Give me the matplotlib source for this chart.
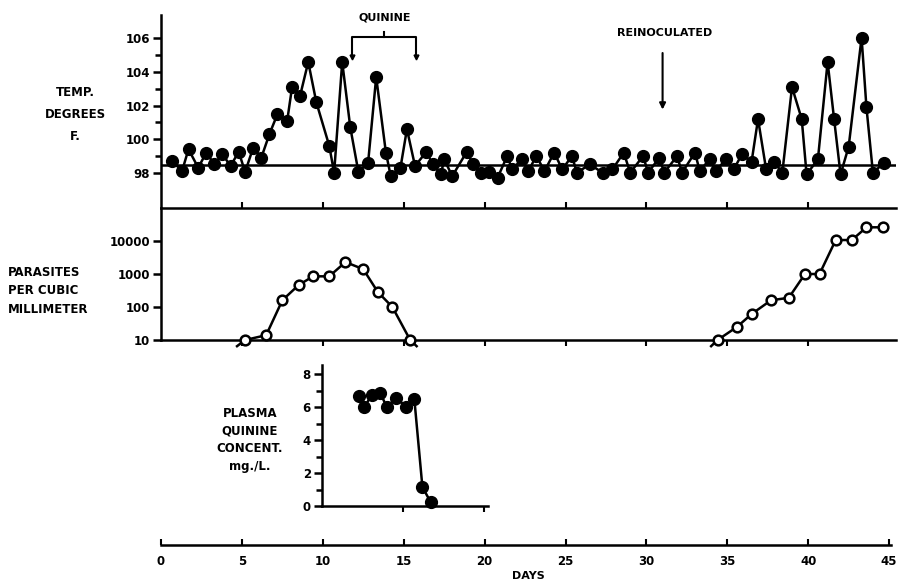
import numpy as np
import matplotlib
matplotlib.use("Agg")
import matplotlib.pyplot as plt

plt.rcParams['font.family'] = ['DejaVu Sans']
plt.rcParams['font.weight'] = 'bold'

# temperature readings (day, deg F)
temp_days = [0.7, 1.3, 1.7, 2.3, 2.8, 3.3, 3.8, 4.3, 4.8, 5.2, 5.7, 6.2, 6.7, 7.2, 7.8,
             8.1, 8.6, 9.1, 9.6, 10.4, 10.7, 11.2, 11.7, 12.2, 12.8, 13.3, 13.9, 14.2,
             14.8, 15.2, 15.7, 16.4, 16.8, 17.3, 17.5, 18.0, 18.9, 19.3, 19.8, 20.3,
             20.8, 21.4, 21.7, 22.3, 22.7, 23.2, 23.7, 24.3, 24.8, 25.4, 25.7, 26.5,
             27.3, 27.9, 28.6, 29.0, 29.8, 30.1, 30.8, 31.1, 31.9, 32.2, 33.0, 33.3,
             33.9, 34.3, 34.9, 35.4, 35.9, 36.5, 36.9, 37.4, 37.9, 38.4, 39.0, 39.6,
             39.9, 40.6, 41.2, 41.6, 42.0, 42.5, 43.3, 43.6, 44.0, 44.7]
temp_vals = [98.7, 98.1, 99.4, 98.3, 99.2, 98.5, 99.1, 98.4, 99.25, 98.05, 99.5, 98.9,
             100.3, 101.5, 101.1, 103.1, 102.6, 104.6, 102.2, 99.6, 98.0, 104.6, 100.7,
             98.05, 98.6, 103.7, 99.2, 97.8, 98.3, 100.6, 98.4, 99.25, 98.5, 97.9, 98.8,
             97.8, 99.25, 98.5, 98.0, 98.05, 97.7, 99.0, 98.2, 98.8, 98.1, 99.0, 98.1,
             99.2, 98.2, 99.0, 98.0, 98.5, 98.0, 98.2, 99.2, 98.0, 99.0, 98.0, 98.9,
             98.0, 99.0, 98.0, 99.2, 98.1, 98.8, 98.1, 98.8, 98.2, 99.1, 98.65, 101.2,
             98.2, 98.65, 98.0, 103.1, 101.2, 97.9, 98.8, 104.6, 101.2, 97.9, 99.55,
             106.05, 101.9, 98.0, 98.6]
normal_temp = 98.45

# parasites per cubic millimeter
par1_days = [5.2, 6.5, 7.5, 8.5, 9.4, 10.4, 11.4, 12.5, 13.4, 14.3, 15.4]
par1_vals = [10, 14, 160, 460, 850, 850, 2300, 1400, 285, 100, 10]
par2_days = [34.4, 35.6, 36.5, 37.7, 38.8, 39.8, 40.7, 41.7, 42.7, 43.6, 44.6]
par2_vals = [10, 25, 61, 160, 190, 1000, 1000, 10700, 10700, 26000, 26000]

# plasma quinine mg./L.
quin_days = [12.3, 12.6, 13.1, 13.6, 14.0, 14.6, 15.2, 15.7, 16.2, 16.7]
quin_vals = [6.65, 6.0, 6.75, 6.85, 6.0, 6.55, 6.0, 6.5, 1.15, 0.25]

day_ticks = [0, 5, 10, 15, 20, 25, 30, 35, 40, 45]

W, H = 898, 584
fig = plt.figure(figsize=(W / 100, H / 100), dpi=100)
fig.patch.set_facecolor('white')


def box(x0, y0, x1, y1):
    # pixel box (top-left origin) -> figure fraction
    return [x0 / W, 1 - y1 / H, (x1 - x0) / W, (y1 - y0) / H]


LW = 1.8
px_per_day = 16.18
x_right = 161 + 45.4 * px_per_day

# ---- temperature panel
ax_t = fig.add_axes(box(161, 15, x_right, 208))
ax_t.set_xlim(0, 45.4)
ax_t.set_ylim(95.9, 107.4)
for s in ['top', 'right', 'bottom']:
    ax_t.spines[s].set_visible(False)
ax_t.spines['left'].set_linewidth(LW)
ax_t.set_xticks([])
ax_t.set_yticks([98, 100, 102, 104, 106])
ax_t.set_yticks([99, 101, 103, 105], minor=True)
ax_t.tick_params(axis='y', which='major', length=6, width=LW, labelsize=8.5, pad=2)
ax_t.tick_params(axis='y', which='minor', length=4, width=LW)
ax_t.axhline(normal_temp, color='black', lw=LW, zorder=1)
ax_t.plot(temp_days, temp_vals, color='black', lw=LW, marker='o', ms=8.5,
          mfc='black', mec='black', zorder=3, clip_on=False)

# quinine bracket
ax_t.plot([11.8, 11.8, 15.75, 15.75], [104.9, 106.1, 106.1, 104.9], color='black',
          lw=1.5, clip_on=False)
ax_t.plot([13.8, 13.8], [106.1, 106.4], color='black', lw=1.5, clip_on=False)
ax_t.plot([11.8, 15.75], [104.9, 104.9], ls='none', marker='v', ms=3.5,
          color='black', clip_on=False)
ax_t.text(13.8, 107.25, 'QUININE', ha='center', va='center', fontsize=8,
          fontweight='bold')
ax_t.text(31.1, 106.35, 'REINOCULATED', ha='center', va='center', fontsize=8,
          fontweight='bold')
ax_t.annotate('', xy=(31.0, 101.6), xytext=(31.0, 105.3),
              arrowprops=dict(arrowstyle='-|>', color='black', lw=1.5,
                              mutation_scale=9))
fig.text(75 / W, 1 - 115 / H, 'TEMP.\nDEGREES\nF.', ha='center', va='center',
         fontsize=8.5, fontweight='bold', linespacing=1.9)

# ---- parasites panel
ax_p = fig.add_axes(box(161, 208, x_right, 340))
ax_p.set_xlim(0, 45.4)
ax_p.set_yscale('log')
ax_p.set_ylim(10, 1e5)
ax_p.spines['right'].set_visible(False)
for s in ['left', 'top', 'bottom']:
    ax_p.spines[s].set_linewidth(LW)
ax_p.set_yticks([10, 100, 1000, 10000])
ax_p.set_yticklabels(['10', '100', '1000', '10000'])
ax_p.yaxis.set_minor_locator(matplotlib.ticker.NullLocator())
ax_p.tick_params(axis='y', length=6, width=LW, labelsize=8.5, pad=2)
ax_p.set_xticks(day_ticks[1:-1])
ax_p.tick_params(axis='x', direction='out', length=4, width=1.5, labelbottom=False,
                 top=True, labeltop=False)
for d, v in [(par1_days, par1_vals), (par2_days, par2_vals)]:
    ax_p.plot(d, v, color='black', lw=LW, marker='o', ms=7, mfc='white',
              mec='black', mew=1.8, zorder=3, clip_on=False)
# lines running below the 10 baseline
ax_p.plot([4.7, par1_days[0]], [6.5, par1_vals[0]], color='black', lw=LW,
          clip_on=False, zorder=2)
ax_p.plot([par1_days[-1], 15.8], [par1_vals[-1], 6.5], color='black', lw=LW,
          clip_on=False, zorder=2)
ax_p.plot([34.0, par2_days[0]], [6.5, par2_vals[0]], color='black', lw=LW,
          clip_on=False, zorder=2)
fig.text(8 / W, 1 - 291 / H, 'PARASITES\nPER CUBIC\nMILLIMETER', ha='left',
         va='center', fontsize=8.5, fontweight='bold', linespacing=1.55)

# ---- plasma quinine panel
ax_q = fig.add_axes(box(322, 365, 488, 506))
ax_q.set_xlim(10, 20.25)
ax_q.set_ylim(0, 8.55)
for s in ['top', 'right']:
    ax_q.spines[s].set_visible(False)
for s in ['left', 'bottom']:
    ax_q.spines[s].set_linewidth(LW)
ax_q.set_xticks([15, 20])
ax_q.tick_params(axis='x', length=4, width=1.5, labelbottom=False)
ax_q.set_yticks([0, 2, 4, 6, 8])
ax_q.set_yticks([1, 3, 5, 7], minor=True)
ax_q.tick_params(axis='y', which='major', length=6, width=LW, labelsize=8.5, pad=2)
ax_q.tick_params(axis='y', which='minor', length=4, width=LW)
ax_q.plot(quin_days, quin_vals, color='black', lw=LW, marker='o', ms=8.5,
          mfc='black', mec='black', zorder=3, clip_on=False)
fig.text(250 / W, 1 - 440 / H, 'PLASMA\nQUININE\nCONCENT.\nmg./L.', ha='center',
         va='center', fontsize=8.5, fontweight='bold', linespacing=1.45)

# ---- days axis
ax_d = fig.add_axes(box(161, 535, x_right, 545))
ax_d.set_xlim(0, 45.4)
ax_d.set_ylim(0, 1)
for s in ['top', 'right', 'left']:
    ax_d.spines[s].set_visible(False)
ax_d.spines['bottom'].set_linewidth(LW)
ax_d.spines['bottom'].set_bounds(0, 45.1)
ax_d.set_yticks([])
ax_d.set_xticks(day_ticks)
ax_d.set_xticklabels([str(t) for t in day_ticks])
ax_d.tick_params(axis='x', direction='in', length=4, width=1.5, labelsize=8.5, pad=7)
fig.text(528 / W, 1 - 576 / H, 'DAYS', ha='center', va='center', fontsize=8,
         fontweight='bold')

fig.savefig('out.png', dpi=100, facecolor='white')
